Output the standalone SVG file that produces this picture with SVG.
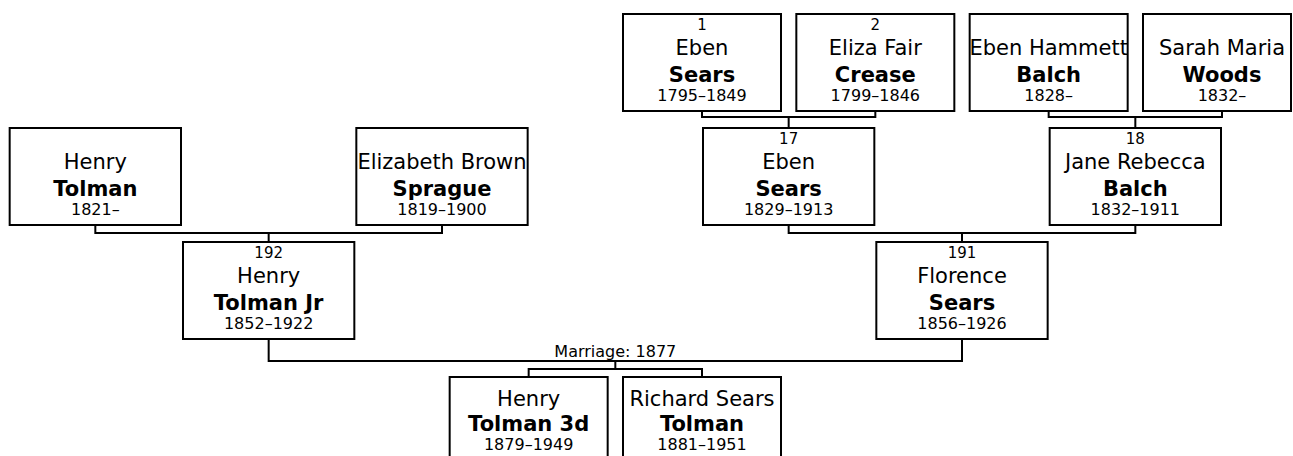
<svg xmlns="http://www.w3.org/2000/svg" width="1293" height="456" viewBox="0 0 1293 456">
<style>
.box{fill:#fff;stroke:#000;stroke-width:2}
.con{fill:none;stroke:#000;stroke-width:2}
text{font-family:"DejaVu Sans",Verdana,sans-serif;fill:#000;text-anchor:middle}
.num{font-size:15px}
.given{font-size:21px}
.sur{font-size:21px;font-weight:bold}
.date{font-size:16px}
.lbl{font-size:16px}
</style>
<rect width="1293" height="456" fill="#fff"/>
<g id="connectors">
<path class="con" d="M702,112V117H875.33V112M788.67,117V128"/>
<path class="con" d="M1048.67,112V117H1222V112M1135.33,117V128"/>
<path class="con" d="M95.33,226V233H442V226M268.67,233V242"/>
<path class="con" d="M788.67,226V233H1135.33V226M962,233V242"/>
<path class="con" d="M268.67,340V361H962V340M615.33,361V369M528.67,377V369H702V377"/>
<text class="lbl" x="615.33" y="357">Marriage: 1877</text>
</g>
<g id="n1">
<rect class="box" x="623" y="14" width="158" height="97"/>
<text class="num" x="702" y="29.5">1</text>
<text class="given" x="702" y="55">Eben</text>
<text class="sur" x="702" y="81.5">Sears</text>
<text class="date" x="702" y="101">1795–1849</text>
</g>
<g id="n2">
<rect class="box" x="796.33" y="14" width="158" height="97"/>
<text class="num" x="875.33" y="29.5">2</text>
<text class="given" x="875.33" y="55">Eliza Fair</text>
<text class="sur" x="875.33" y="81.5">Crease</text>
<text class="date" x="875.33" y="101">1799–1846</text>
</g>
<g id="n3">
<rect class="box" x="969.67" y="14" width="158" height="97"/>
<text class="given" x="1048.67" y="55">Eben Hammett</text>
<text class="sur" x="1048.67" y="81.5">Balch</text>
<text class="date" x="1048.67" y="101">1828–</text>
</g>
<g id="n4">
<rect class="box" x="1143" y="14" width="148" height="97"/>
<text class="given" x="1222" y="55">Sarah Maria</text>
<text class="sur" x="1222" y="81.5">Woods</text>
<text class="date" x="1222" y="101">1832–</text>
</g>
<g id="n17">
<rect class="box" x="703" y="128" width="171.33" height="97"/>
<text class="num" x="788.67" y="143.5">17</text>
<text class="given" x="788.67" y="169">Eben</text>
<text class="sur" x="788.67" y="195.5">Sears</text>
<text class="date" x="788.67" y="215">1829–1913</text>
</g>
<g id="n18">
<rect class="box" x="1049.67" y="128" width="171.33" height="97"/>
<text class="num" x="1135.33" y="143.5">18</text>
<text class="given" x="1135.33" y="169">Jane Rebecca</text>
<text class="sur" x="1135.33" y="195.5">Balch</text>
<text class="date" x="1135.33" y="215">1832–1911</text>
</g>
<g id="nHenryTolman">
<rect class="box" x="9.67" y="128" width="171.33" height="97"/>
<text class="given" x="95.33" y="169">Henry</text>
<text class="sur" x="95.33" y="195.5">Tolman</text>
<text class="date" x="95.33" y="215">1821–</text>
</g>
<g id="nElizabeth">
<rect class="box" x="356.33" y="128" width="171.33" height="97"/>
<text class="given" x="442" y="169">Elizabeth Brown</text>
<text class="sur" x="442" y="195.5">Sprague</text>
<text class="date" x="442" y="215">1819–1900</text>
</g>
<g id="n192">
<rect class="box" x="183" y="242" width="171.33" height="97"/>
<text class="num" x="268.67" y="257.5">192</text>
<text class="given" x="268.67" y="283">Henry</text>
<text class="sur" x="268.67" y="309.5">Tolman Jr</text>
<text class="date" x="268.67" y="329">1852–1922</text>
</g>
<g id="n191">
<rect class="box" x="876.33" y="242" width="171.33" height="97"/>
<text class="num" x="962" y="257.5">191</text>
<text class="given" x="962" y="283">Florence</text>
<text class="sur" x="962" y="309.5">Sears</text>
<text class="date" x="962" y="329">1856–1926</text>
</g>
<g id="nHenry3d">
<rect class="box" x="449.67" y="377" width="158" height="97"/>
<text class="given" x="528.67" y="406">Henry</text>
<text class="sur" x="528.67" y="430.5">Tolman 3d</text>
<text class="date" x="528.67" y="450">1879–1949</text>
</g>
<g id="nRichard">
<rect class="box" x="623" y="377" width="158" height="97"/>
<text class="given" x="702" y="406">Richard Sears</text>
<text class="sur" x="702" y="430.5">Tolman</text>
<text class="date" x="702" y="450">1881–1951</text>
</g>
</svg>
